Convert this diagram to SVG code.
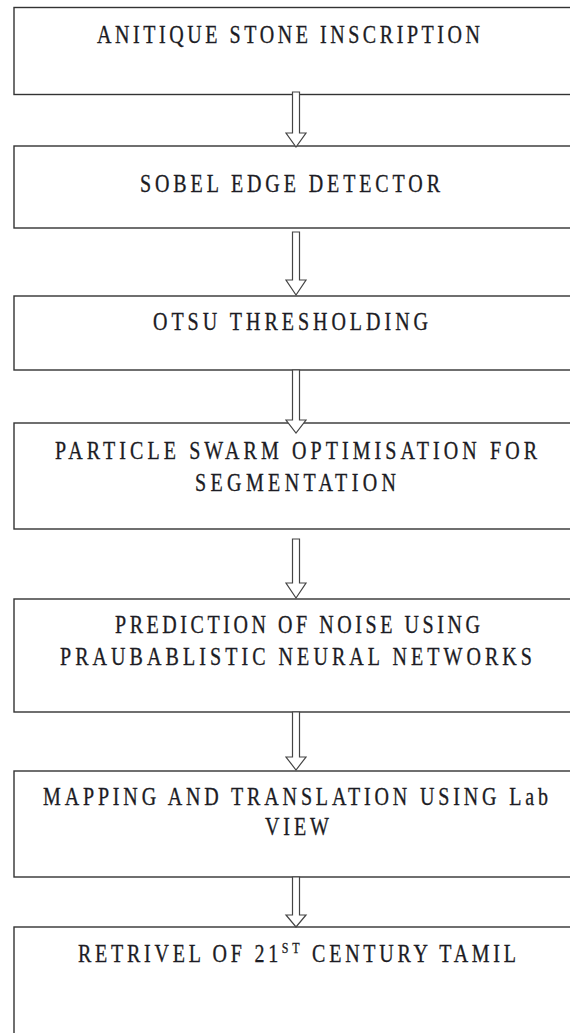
<svg xmlns="http://www.w3.org/2000/svg" width="570" height="1033" viewBox="0 0 570 1033">
<style>
.box{fill:#fff;stroke:#333;stroke-width:1.4}
.arr{fill:#fff;stroke:#444;stroke-width:1.2;stroke-linejoin:miter}
.t{font-family:"Liberation Serif","Times New Roman",serif;font-size:20px;fill:#1c1c24;stroke:#1c1c24;stroke-width:0.25}
</style>
<rect width="570" height="1033" fill="#fff"/>
<g id="n1"><rect class="box" x="14" y="7.5" width="600" height="87"/>
<g transform="translate(0,43) scale(1,1.28)"><text class="t" x="97" y="0" textLength="383" lengthAdjust="spacing">ANITIQUE STONE INSCRIPTION</text></g></g>
<g id="n2"><rect class="box" x="14" y="146" width="600" height="82"/>
<g transform="translate(0,192) scale(1,1.28)"><text class="t" x="140" y="0" textLength="300" lengthAdjust="spacing">SOBEL EDGE DETECTOR</text></g></g>
<g id="n3"><rect class="box" x="14" y="296" width="600" height="74"/>
<g transform="translate(0,330) scale(1,1.28)"><text class="t" x="153" y="0" textLength="275" lengthAdjust="spacing">OTSU THRESHOLDING</text></g></g>
<g id="n4"><rect class="box" x="14" y="423" width="600" height="106"/>
<g transform="translate(0,459) scale(1,1.28)"><text class="t" x="55" y="0" textLength="482" lengthAdjust="spacing">PARTICLE SWARM OPTIMISATION FOR</text></g>
<g transform="translate(0,491) scale(1,1.28)"><text class="t" x="195" y="0" textLength="201" lengthAdjust="spacing">SEGMENTATION</text></g></g>
<g id="n5"><rect class="box" x="14" y="599" width="600" height="113"/>
<g transform="translate(0,633) scale(1,1.28)"><text class="t" x="115" y="0" textLength="365" lengthAdjust="spacing">PREDICTION OF NOISE USING</text></g>
<g transform="translate(0,665) scale(1,1.28)"><text class="t" x="60" y="0" textLength="472" lengthAdjust="spacing">PRAUBABLISTIC NEURAL NETWORKS</text></g></g>
<g id="n6"><rect class="box" x="14" y="771" width="600" height="106"/>
<g transform="translate(0,805) scale(1,1.28)"><text class="t" x="43" y="0" textLength="505" lengthAdjust="spacing">MAPPING AND TRANSLATION USING Lab</text></g>
<g transform="translate(0,835) scale(1,1.28)"><text class="t" x="265" y="0" textLength="64" lengthAdjust="spacing">VIEW</text></g></g>
<g id="n7"><rect class="box" x="14" y="927" width="600" height="120"/>
<g transform="translate(0,962) scale(1,1.28)"><text class="t" x="78" y="0" textLength="438" lengthAdjust="spacing">RETRIVEL OF 21<tspan font-size="12" dy="-7">ST</tspan><tspan dy="7"> CENTURY TAMIL</tspan></text></g></g>
<g id="connectors">
<polygon class="arr" points="292.5,92 299.5,92 299.5,133 306,133 296,147 286,133 292.5,133"/>
<polygon class="arr" points="292.5,232 299.5,232 299.5,280 306,280 296,295 286,280 292.5,280"/>
<polygon class="arr" points="292.5,370 299.5,370 299.5,420 306,420 296,433 286,420 292.5,420"/>
<polygon class="arr" points="292.5,539 299.5,539 299.5,583 306,583 296,598 286,583 292.5,583"/>
<polygon class="arr" points="292.5,712 299.5,712 299.5,757 306,757 296,770 286,757 292.5,757"/>
<polygon class="arr" points="292.5,877 299.5,877 299.5,915 306,915 296,927 286,915 292.5,915"/>
</g>
</svg>
